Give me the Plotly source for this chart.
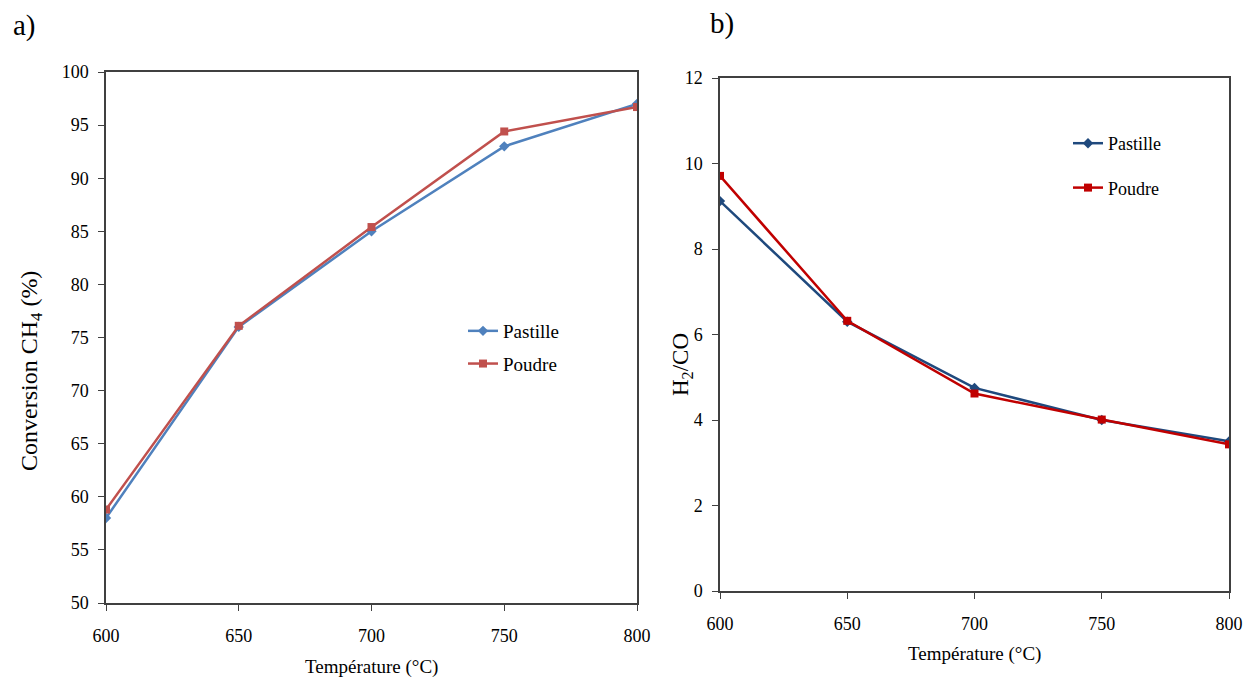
import plotly.graph_objects as go

temps = [600, 650, 700, 750, 800]
conv_pastille = [58.0, 76.0, 85.0, 93.0, 97.0]
conv_poudre = [58.8, 76.1, 85.4, 94.4, 96.7]
ratio_pastille = [9.12, 6.30, 4.75, 4.00, 3.50]
ratio_poudre = [9.71, 6.32, 4.62, 4.01, 3.43]

W, H = 1243, 678
FONT = "Liberation Serif"
# plot-area margins (pixels)
ML, MR, MT, MB = 106, 14, 72, 75
PW, PH = W - ML - MR, H - MT - MB


def px_x(p):
    return (p - ML) / PW


def px_y(p):
    return (H - MB - p) / PH


fig = go.Figure()

fig.add_trace(go.Scatter(x=temps, y=conv_pastille, name="Pastille", mode="lines+markers",
                         line=dict(color="#4F81BD", width=2.5),
                         marker=dict(symbol="diamond", size=8, color="#4F81BD"),
                         xaxis="x", yaxis="y", legend="legend", legendgroup="a1"))
fig.add_trace(go.Scatter(x=temps, y=conv_poudre, name="Poudre", mode="lines+markers",
                         line=dict(color="#C0504D", width=2.5),
                         marker=dict(symbol="square", size=8, color="#C0504D"),
                         xaxis="x", yaxis="y", legend="legend", legendgroup="a2"))
fig.add_trace(go.Scatter(x=temps, y=ratio_pastille, name="Pastille", mode="lines+markers",
                         line=dict(color="#1F497D", width=2.5),
                         marker=dict(symbol="diamond", size=8, color="#1F497D"),
                         xaxis="x2", yaxis="y2", legend="legend2", legendgroup="b1"))
fig.add_trace(go.Scatter(x=temps, y=ratio_poudre, name="Poudre", mode="lines+markers",
                         line=dict(color="#C00000", width=2.5),
                         marker=dict(symbol="square", size=8, color="#C00000"),
                         xaxis="x2", yaxis="y2", legend="legend2", legendgroup="b2"))

axis_common = dict(showgrid=False, zeroline=False, showline=True, linecolor="#404040",
                   linewidth=1.5, mirror=True, ticks="outside", ticklen=6,
                   tickcolor="#404040", automargin=False,
                   tickfont=dict(family=FONT, size=18, color="black"))

fig.update_layout(
    width=W, height=H,
    margin=dict(l=ML, r=MR, t=MT, b=MB, autoexpand=False),
    paper_bgcolor="white", plot_bgcolor="white",
    font=dict(family=FONT, color="black"),
    xaxis=dict(domain=[0, px_x(637)], range=[600, 800], tickvals=temps,
               anchor="y", ticklabelstandoff=10, **axis_common),
    yaxis=dict(domain=[px_y(603), px_y(72)], range=[50, 100], dtick=5,
               anchor="x", ticklabelstandoff=6, **axis_common),
    xaxis2=dict(domain=[px_x(720), 1], range=[600, 800], tickvals=temps,
                anchor="y2", ticklabelstandoff=10, **axis_common),
    yaxis2=dict(domain=[px_y(591), px_y(78)], range=[0, 12], dtick=2,
                anchor="x2", ticklabelstandoff=6, **axis_common),
    legend=dict(x=px_x(463), y=px_y(312), xanchor="left", yanchor="top",
                bgcolor="rgba(0,0,0,0)", font=dict(family=FONT, size=19),
                tracegroupgap=5, itemwidth=30),
    legend2=dict(x=px_x(1068), y=px_y(125), xanchor="left", yanchor="top",
                 bgcolor="rgba(0,0,0,0)", font=dict(family=FONT, size=18),
                 tracegroupgap=18, itemwidth=30),
    annotations=[
        dict(text="a)", x=px_x(11), y=px_y(26), xref="paper", yref="paper",
             xanchor="left", yanchor="middle", showarrow=False,
             font=dict(family=FONT, size=29)),
        dict(text="b)", x=px_x(708), y=px_y(24), xref="paper", yref="paper",
             xanchor="left", yanchor="middle", showarrow=False,
             font=dict(family=FONT, size=29)),
        dict(text="Température (°C)", x=px_x(371), y=px_y(667), xref="paper", yref="paper",
             xanchor="center", yanchor="middle", showarrow=False,
             font=dict(family=FONT, size=19)),
        dict(text="Température (°C)", x=px_x(974), y=px_y(654), xref="paper", yref="paper",
             xanchor="center", yanchor="middle", showarrow=False,
             font=dict(family=FONT, size=19)),
        dict(text="Conversion CH<sub>4</sub> (%)", x=px_x(31), y=px_y(371), xref="paper",
             yref="paper", xanchor="center", yanchor="middle", showarrow=False,
             textangle=-90, font=dict(family=FONT, size=24)),
        dict(text="H<sub>2</sub>/CO", x=px_x(682), y=px_y(365), xref="paper",
             yref="paper", xanchor="center", yanchor="middle", showarrow=False,
             textangle=-90, font=dict(family=FONT, size=23)),
    ],
)

fig.write_html("out.html", config={"displayModeBar": False},
               post_script="document.body.style.margin='0';document.body.style.overflow='hidden';")
